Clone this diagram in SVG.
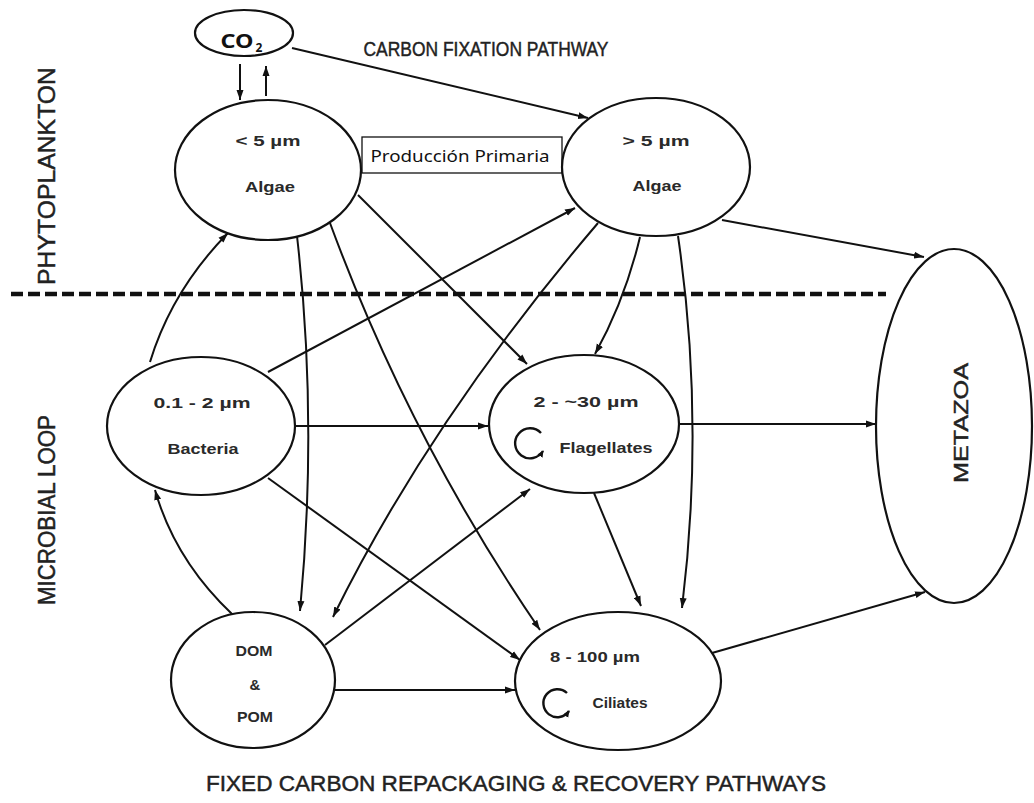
<svg xmlns="http://www.w3.org/2000/svg" width="1034" height="803" viewBox="0 0 1034 803">
<defs>
<marker id="ah" markerUnits="userSpaceOnUse" markerWidth="11" markerHeight="8" refX="10" refY="4" orient="auto"><path d="M0,0.5 L10,4 L0,7.5 z" fill="#111"/></marker>
<marker id="ahs" markerUnits="userSpaceOnUse" markerWidth="8" markerHeight="7" refX="6" refY="3" orient="auto"><path d="M0,0 L7,3 L0,6 z" fill="#111"/></marker>
<style>
.node{fill:#fff;stroke:#111;stroke-width:2.2}
.conn{fill:none;stroke:#111;stroke-width:2;marker-end:url(#ah)}
.lbl{font-family:"Liberation Sans",Arial,sans-serif;font-size:15px;font-weight:bold;fill:#2a2a2a;text-anchor:middle}
.head{font-family:"Liberation Sans",Arial,sans-serif;fill:#222;stroke:#222;stroke-width:0.45;text-anchor:middle}
.cal{font-family:"Noto Sans","Open Sans",sans-serif;fill:#111;text-anchor:middle}
.loop{fill:none;stroke:#111;stroke-width:2.4;marker-end:url(#ahs)}
</style>
</defs>
<rect width="1034" height="803" fill="#fff"/>

<!-- headings -->
<text class="head" x="486" y="56" font-size="20" textLength="245" lengthAdjust="spacingAndGlyphs">CARBON FIXATION PATHWAY</text>
<text class="head" transform="translate(55,176) rotate(-90)" x="0" y="0" font-size="23" textLength="218" lengthAdjust="spacingAndGlyphs">PHYTOPLANKTON</text>
<text class="head" transform="translate(55,510) rotate(-90)" x="0" y="0" font-size="23" textLength="190" lengthAdjust="spacingAndGlyphs">MICROBIAL LOOP</text>
<text class="head" x="516" y="791" font-size="22" textLength="620" lengthAdjust="spacingAndGlyphs">FIXED CARBON REPACKAGING &amp; RECOVERY PATHWAYS</text>

<!-- divider -->
<line x1="11" y1="294" x2="886" y2="294" stroke="#111" stroke-width="4.5" stroke-dasharray="12 5"/>

<g id="connectors">
<path class="conn" d="M240,64 L240,100"/>
<path class="conn" d="M266,96 L266,66"/>
<path class="conn" d="M292,48 L588,118"/>
<path class="conn" d="M150,362 Q172,290 228,233"/>
<path class="conn" d="M268,372 L575,208"/>
<path class="conn" d="M297,236 Q318,420 300,611"/>
<path class="conn" d="M330,223 Q410,440 540,630"/>
<path class="conn" d="M358,195 L527,364"/>
<path class="conn" d="M722,220 L924,257"/>
<path class="conn" d="M640,237 Q625,300 595,354"/>
<path class="conn" d="M598,223 Q430,420 333,617"/>
<path class="conn" d="M678,236 Q705,420 682,608"/>
<path class="conn" d="M295,426 L488,426"/>
<path class="conn" d="M268,478 L520,660"/>
<path class="conn" d="M679,424 L876,424"/>
<path class="conn" d="M594,493 L641,606"/>
<path class="conn" d="M232,614 Q175,560 155,490"/>
<path class="conn" d="M325,645 L530,489"/>
<path class="conn" d="M335,690 L515,690"/>
<path class="conn" d="M712,653 L925,592"/>
</g>

<g id="co2">
<ellipse class="node" cx="244" cy="33" rx="49" ry="23" stroke-width="1.5"/>
<text class="cal" x="237" y="48" font-size="19" font-weight="bold" textLength="33" lengthAdjust="spacingAndGlyphs">CO</text>
<text class="cal" x="259" y="52" font-size="12" font-weight="bold">2</text>
</g>

<g id="prod">
<rect x="362" y="137" width="200" height="36" fill="#fff" stroke="#111" stroke-width="1.3"/>
<text class="cal" x="460" y="162" font-size="17" textLength="179" lengthAdjust="spacingAndGlyphs">Producción Primaria</text>
</g>

<g id="algae-small">
<ellipse class="node" cx="268" cy="170" rx="93" ry="70"/>
<text class="lbl" x="268" y="146" textLength="65" lengthAdjust="spacingAndGlyphs">&lt; 5 µm</text>
<text class="lbl" x="270" y="192" textLength="50" lengthAdjust="spacingAndGlyphs">Algae</text>
</g>

<g id="algae-large">
<ellipse class="node" cx="656" cy="167" rx="94" ry="69"/>
<text class="lbl" x="656" y="146" textLength="67" lengthAdjust="spacingAndGlyphs">&gt; 5 µm</text>
<text class="lbl" x="657" y="191" textLength="49" lengthAdjust="spacingAndGlyphs">Algae</text>
</g>

<g id="bacteria">
<ellipse class="node" cx="201" cy="426" rx="94" ry="69"/>
<text class="lbl" x="202" y="408" textLength="97" lengthAdjust="spacingAndGlyphs">0.1 - 2 µm</text>
<text class="lbl" x="203" y="454" textLength="71" lengthAdjust="spacingAndGlyphs">Bacteria</text>
</g>

<g id="flagellates">
<ellipse class="node" cx="584" cy="424" rx="95" ry="69"/>
<text class="lbl" x="586" y="407" textLength="105" lengthAdjust="spacingAndGlyphs">2 - ~30 µm</text>
<path class="loop" d="M541,433 A15,15 0 1 0 543,451"/>
<text class="lbl" x="606" y="453" textLength="93" lengthAdjust="spacingAndGlyphs">Flagellates</text>
</g>

<g id="dom">
<ellipse class="node" cx="253" cy="680" rx="82" ry="68"/>
<text class="lbl" x="254" y="656" textLength="37" lengthAdjust="spacingAndGlyphs">DOM</text>
<text class="lbl" x="255" y="690">&amp;</text>
<text class="lbl" x="255" y="722" textLength="36" lengthAdjust="spacingAndGlyphs">POM</text>
</g>

<g id="ciliates">
<ellipse class="node" cx="618" cy="681" rx="103" ry="69"/>
<text class="lbl" x="595" y="662" textLength="90" lengthAdjust="spacingAndGlyphs">8 - 100 µm</text>
<path class="loop" d="M567,693 A14,14 0 1 0 569,711"/>
<text class="lbl" x="620" y="708" textLength="55" lengthAdjust="spacingAndGlyphs">Ciliates</text>
</g>

<g id="metazoa">
<ellipse class="node" cx="954" cy="426" rx="78" ry="177"/>
<text class="head" transform="translate(968,423) rotate(-90)" x="0" y="0" font-size="21" textLength="120" lengthAdjust="spacingAndGlyphs">METAZOA</text>
</g>
</svg>
